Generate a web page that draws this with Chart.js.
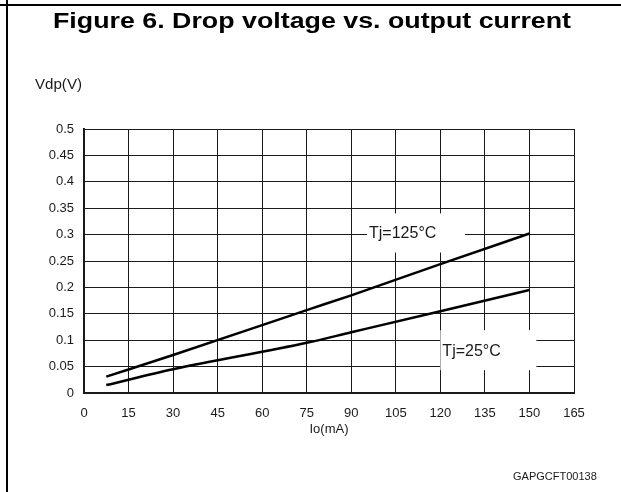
<!DOCTYPE html>
<html lang="en">
<head>
  <meta charset="UTF-8" />
  <title>Figure 6. Drop voltage vs. output current</title>
  <script src="https://cdn.jsdelivr.net/npm/chart.js@4.4.0/dist/chart.umd.min.js"></script>
  <style>
    body { margin: 0; background: #fff; }
    #wrap { width: 621px; height: 492px; position: relative; }
  </style>
</head>
<body>
  <div id="wrap"><canvas id="chart" width="621" height="492"></canvas></div>
  <script>
    // values
    const ioHot = [7.5, 30, 75, 90, 120, 150];
    const vdpHot = [0.031, 0.072, 0.157, 0.185, 0.244, 0.302];
    const ioCold = [7.5, 30, 75, 90, 120, 150];
    const vdpCold = [0.015, 0.045, 0.095, 0.115, 0.155, 0.195];
    const seriesNames = ['Tj=125°C', 'Tj=25°C'];
    const xTicks = [0, 15, 30, 45, 60, 75, 90, 105, 120, 135, 150, 165];
    const yTicks = [0, 0.05, 0.1, 0.15, 0.2, 0.25, 0.3, 0.35, 0.4, 0.45, 0.5];

    const font = "'Liberation Sans', Arial, sans-serif";
    const ink = '#1a1a1a';

    function pts(xs, ys) {
      return xs.map((x, i) => ({ x: x, y: ys[i] }));
    }

    // draws text stretched to a given width (the scanned figure is wide)
    function wideText(c, text, x, y, w) {
      const m = c.measureText(text).width;
      c.save();
      c.translate(x, y);
      c.scale(w / m, 1);
      c.fillText(text, 0, 0);
      c.restore();
    }

    // frame, title, axis label and the boxed curve labels
    const decor = {
      id: 'decor',
      beforeDraw(chart) {
        const c = chart.ctx;
        c.save();
        c.fillStyle = '#fff';
        c.fillRect(0, 0, chart.width, chart.height);
        c.restore();
      },
      afterDraw(chart) {
        const c = chart.ctx;
        const xs = chart.scales.x, ys = chart.scales.y;
        c.save();
        c.strokeStyle = '#000';
        c.lineWidth = 2;
        c.beginPath();
        c.moveTo(0, 5); c.lineTo(chart.width, 5);
        c.moveTo(7, 0); c.lineTo(7, chart.height);
        c.stroke();

        c.fillStyle = '#000';
        c.textBaseline = 'alphabetic';
        c.textAlign = 'left';
        c.font = 'bold 22px ' + font;
        wideText(c, 'Figure 6. Drop voltage vs. output current', 53, 28, 518);

        c.fillStyle = ink;
        c.font = '14px ' + font;
        wideText(c, 'Vdp(V)', 35, 89, 47);

        c.textBaseline = 'middle';
        c.font = '11px ' + font;
        c.fillText('GAPGCFT00138', 513, 477);

        // curve labels on white boxes
        const tags = [
          { text: seriesNames[0], x: 95.3, y: 0.34, w: 98, h: 39 },
          { text: seriesNames[1], x: 120, y: 0.119, w: 96, h: 40 }
        ];
        c.font = '16px ' + font;
        tags.forEach(t => {
          const px = xs.getPixelForValue(t.x), py = ys.getPixelForValue(t.y);
          c.fillStyle = '#fff';
          c.fillRect(px, py, t.w, t.h);
          c.fillStyle = ink;
          c.fillText(t.text, px + 2, py + t.h / 2 + 1);
        });
        c.restore();
      }
    };

    new Chart(document.getElementById('chart'), {
      type: 'line',
      data: {
        datasets: [
          { label: seriesNames[0], data: pts(ioHot, vdpHot) },
          { label: seriesNames[1], data: pts(ioCold, vdpCold) }
        ]
      },
      options: {
        responsive: false,
        animation: false,
        devicePixelRatio: 1,
        layout: { padding: { left: 0, top: 129, right: 47, bottom: 55 } },
        elements: {
          line: { borderColor: '#000', borderWidth: 2.5, cubicInterpolationMode: 'monotone' },
          point: { radius: 0 }
        },
        plugins: {
          legend: { display: false },
          tooltip: { enabled: false }
        },
        scales: {
          x: {
            type: 'linear',
            min: 0, max: 165,
            afterBuildTicks: s => { s.ticks = xTicks.map(v => ({ value: v })); },
            afterFit: s => { s.height = 44; },
            grid: { color: ink, lineWidth: 1, drawTicks: false },
            border: { color: ink, width: 2 },
            ticks: { color: ink, padding: 13, font: { family: font, size: 13 } },
            title: {
              display: true, text: 'Io(mA)', color: ink,
              font: { family: font, size: 13 }, padding: { top: 0, bottom: 0 }
            }
          },
          y: {
            min: 0, max: 0.5,
            afterBuildTicks: s => { s.ticks = yTicks.map(v => ({ value: v })); },
            afterFit: s => { s.width = 84; },
            grid: { color: ink, lineWidth: 1, drawTicks: false },
            border: { color: ink, width: 2 },
            ticks: {
              color: ink, padding: 10, font: { family: font, size: 13 },
              callback: v => String(Number(v.toFixed(2)))
            }
          }
        }
      },
      plugins: [decor]
    });
  </script>
</body>
</html>
